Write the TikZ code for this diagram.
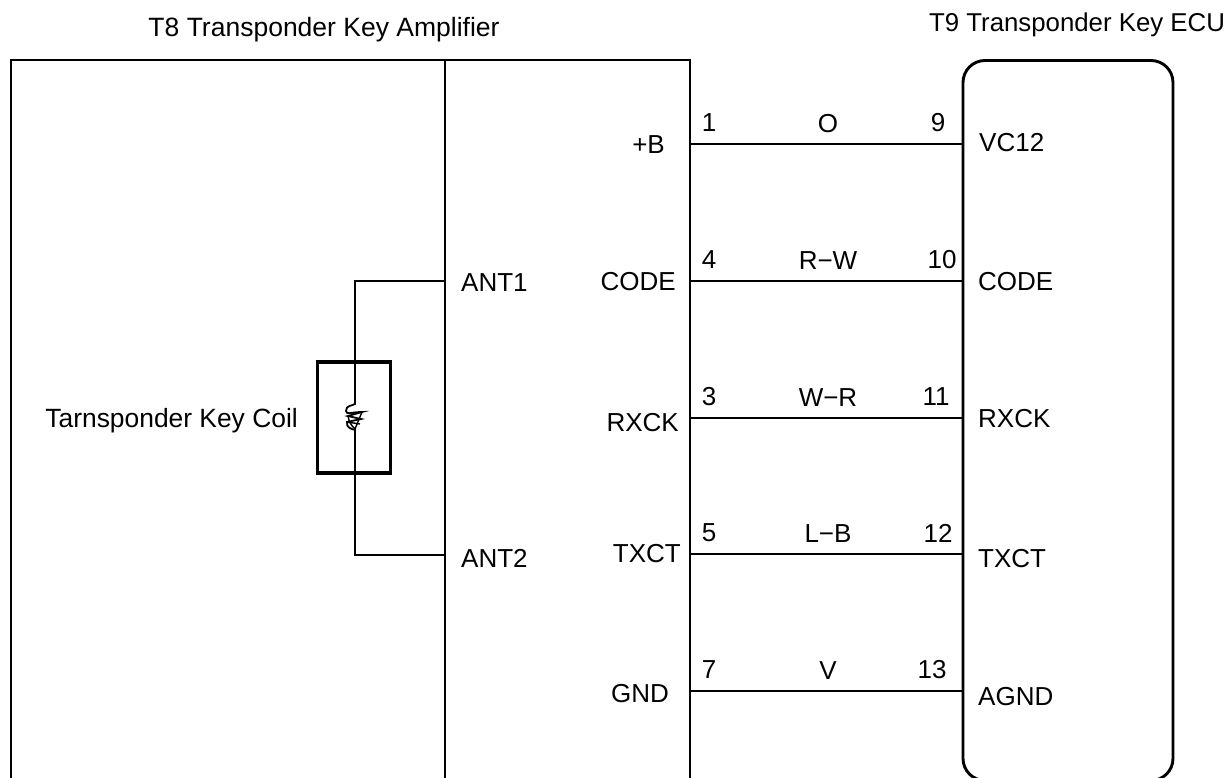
\documentclass[tikz,border=0pt]{standalone}
\usepackage{fontspec}
\setmainfont{Liberation Sans}
\tikzset{
 thick line/.style={line width=2.9pt,line cap=butt},
 thin line/.style={line width=1.8pt},
 lbl/.style={font=\fontsize{26}{30}\selectfont,inner sep=0pt,text=black},
}
\begin{document}
\begin{tikzpicture}[x=1pt,y=-1pt]
\useasboundingbox (0,0) rectangle (1231,778);
\fill[white] (0,0) rectangle (1231,778);
% boxes
\draw[thick line] (11,790) -- (11,60) -- (690,60) -- (690,790);
\draw[thick line] (445,60) -- (445,790);
\draw[thick line,rounded corners=22pt] (963,60.5) rectangle (1173,780.5);
% titles
\node[lbl,font=\fontsize{26.5}{30}\selectfont] (t8) at (324,30) {T8 Transponder Key Amplifier};
\node[lbl,font=\fontsize{25.8}{30}\selectfont] (t9) at (1077,25) {T9 Transponder Key ECU};
% left pins
\node[lbl,anchor=east] (b) at (665,145) {+B};
\node[lbl,anchor=east] (code) at (676,282) {CODE};
\node[lbl,anchor=east] (rxck) at (679,423) {RXCK};
\node[lbl,anchor=east] (txct) at (681,554) {TXCT};
\node[lbl,anchor=east] (gnd) at (669,694) {GND};
% right pins
\node[lbl,anchor=west] (vc) at (979,143) {VC12};
\node[lbl,anchor=west] (code2) at (978,282) {CODE};
\node[lbl,anchor=west] (rxck2) at (978,419) {RXCK};
\node[lbl,anchor=west] (txct2) at (978,559) {TXCT};
\node[lbl,anchor=west] (agnd) at (978,697) {AGND};
% wires
\foreach \n/\y/\p/\c/\q/\qx in {a/144/1/O/9/938,c/281/4/R−W/10/942,e/418/3/W−R/11/936,g/554/5/L−B/12/938,i/691/7/V/13/932}{
 \coordinate (l\n) at (690,\y);
 \coordinate (r\n) at (963,\y);
 \draw[thin line] (l\n) -- (r\n);
 \node[lbl] (p\n) at (709,\y-21) {\p};
 \node[lbl] (w\n) at (828,\y-20) {\c};
 \node[lbl] (q\n) at (\qx,\y-21) {\q};
}
% ANT
\node[lbl,anchor=west] (ant1) at (461,283) {ANT1};
\node[lbl,anchor=west] (ant2) at (461,558) {ANT2};
\coordinate (a1) at (445,281);
\coordinate (a2) at (445,555);
\coordinate (c1) at (355,281);
\coordinate (c2) at (355,555);
\coordinate (c3) at (355,404);
\coordinate (c4) at (355,430);
% coil
\node[lbl,font=\fontsize{26.4}{30}\selectfont,anchor=east] (coil) at (298,421) {Tarnsponder Key Coil};
\node[draw,line width=3.6pt,minimum width=73pt,minimum height=111pt,inner sep=0pt] (box) at (354,417.5) {};
\draw[thin line] (a1) -- (c1) -- (c3) .. controls (352,406) and (346,405) .. (346,411) .. controls (346,415) and (352,412) .. (362,412) -- (348,416) -- (361,419) -- (347,422) .. controls (346,428) and (352,429) .. (c4) -- (c2) -- (a2);
\draw[line width=1.4pt] (362,412) -- (355,429) (348,416) .. controls (349,423) and (352,426) .. (355,429) (347,422) -- (360,424);
\end{tikzpicture}
\end{document}
